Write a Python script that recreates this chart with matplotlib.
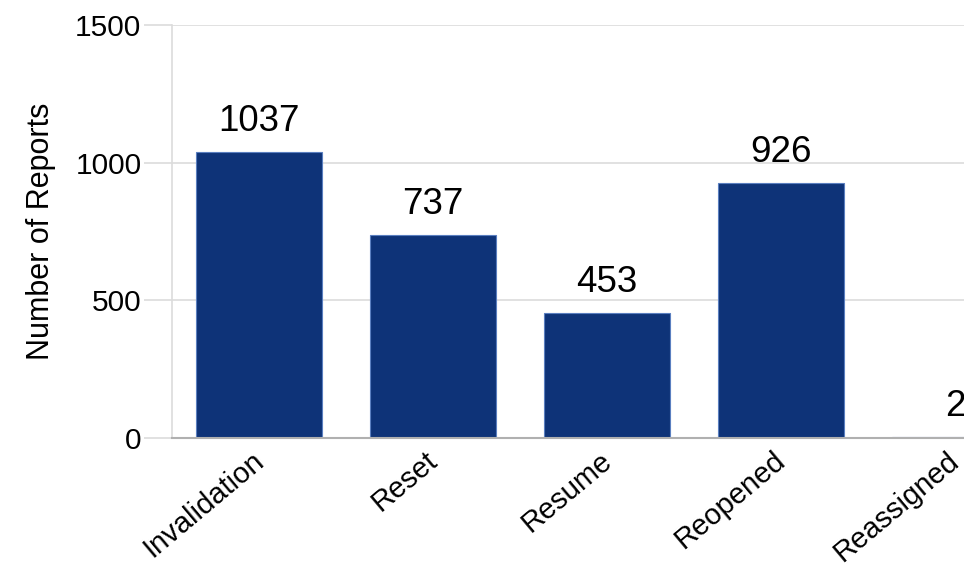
import matplotlib
matplotlib.use("Agg")
import matplotlib.pyplot as plt
import matplotlib.transforms as mtransforms

categories = ["Invalidation", "Reset", "Resume", "Reopened", "Reassigned"]
reports = [1037, 737, 453, 926, 2]
yticks = [0, 500, 1000, 1500]

plt.rcParams['font.family'] = ['Liberation Sans', 'DejaVu Sans']

fig = plt.figure(figsize=(9.64, 5.72), dpi=100)
# the source image is cropped on the right, so the axes runs past the figure edge
ax = fig.add_axes([0.1784, 0.2343, 0.9025, 0.722])

x = range(len(categories))
bars = ax.bar(x, reports, width=0.72, color='#0e3378', edgecolor='#5a7fc0', linewidth=0.8, zorder=3)

for b, v in zip(bars, reports):
    ax.text(b.get_x() + b.get_width() / 2, v + 48, str(v), ha='center', va='bottom',
            fontsize=26.5, color='black')

ax.set_xlim(-0.5, len(categories) - 0.5)
ax.set_ylim(0, 1500)
ax.set_yticks(yticks)
ax.set_yticklabels([str(t) for t in yticks], fontsize=21.5)
ax.yaxis.grid(True, color='#dcdcdc', linewidth=1.2, zorder=0)
ax.tick_params(axis='y', length=20, color='#dcdcdc', width=1.2, pad=2)

ax.set_xticks(list(x))
ax.set_xticklabels(categories, rotation=40, ha='right', rotation_mode='anchor', fontsize=21)
ax.tick_params(axis='x', length=0, pad=6)
shift = mtransforms.ScaledTranslation(-8 / 100, 0, fig.dpi_scale_trans)
for lab in ax.get_xticklabels():
    lab.set_transform(lab.get_transform() + shift)

ax.set_ylabel("Number of Reports", fontsize=22, labelpad=14)

for s in ['top', 'right']:
    ax.spines[s].set_visible(False)
ax.spines['left'].set_color('#dcdcdc')
ax.spines['left'].set_linewidth(1.2)
ax.spines['bottom'].set_color('#b0b0b0')
ax.spines['bottom'].set_linewidth(1.5)
ax.spines['bottom'].set_zorder(4)

fig.savefig("out.png", dpi=100)
